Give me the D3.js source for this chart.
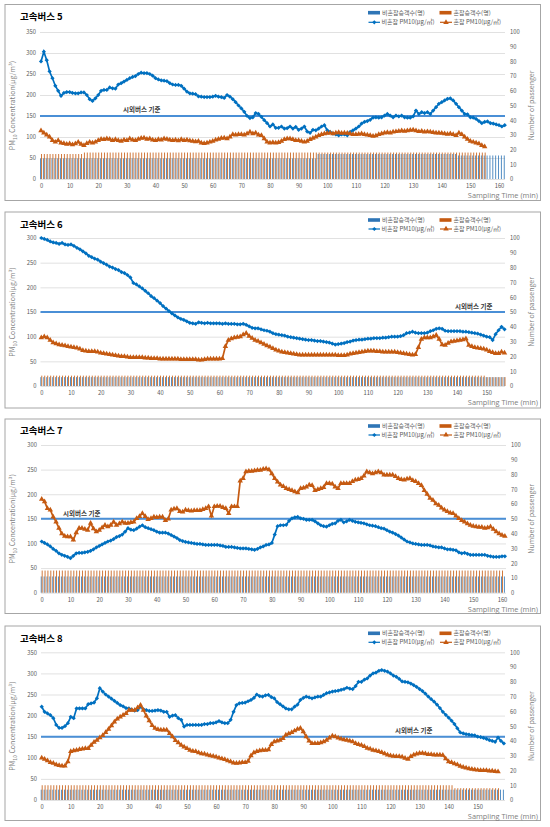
<!DOCTYPE html>
<html><head><meta charset="utf-8">
<script src="https://cdn.jsdelivr.net/npm/d3@7"></script>
<style>body{margin:0;background:#fff}</style>
</head><body>
<svg id="c" width="550" height="827"></svg>
<script>
// ---------- DATA ----------
const titles = ["고속버스 5","고속버스 6","고속버스 7","고속버스 8"];
const legendLabels = ["비혼잡승객수(명)","혼잡승객수(명)","비혼잡 PM10(μg/㎥)","혼잡 PM10(μg/㎥)"];
const refLabel = "시외버스 기준";
const refValue = 150;
const leftTicks350 = [0,50,100,150,200,250,300,350];
const leftTicks300 = [0,50,100,150,200,250,300];
const rightTicks = [0,10,20,30,40,50,60,70,80,90,100];
const xTicks160 = [0,10,20,30,40,50,60,70,80,90,100,110,120,130,140,150,160];
const xTicks150 = [0,10,20,30,40,50,60,70,80,90,100,110,120,130,140,150];

const p1Blue = [280,303,283,256,240,222,210,198,205,207,
207,205,204,204,206,206,200,190,186,192,
200,210,212,212,218,216,215,225,228,232,
236,240,243,245,250,253,252,252,250,246,
240,237,235,234,233,228,225,224,224,222,
215,208,204,203,202,197,196,195,195,195,
196,198,196,195,193,200,196,190,183,175,
168,160,150,145,147,157,155,148,140,133,
125,130,122,122,125,120,121,125,120,124,
117,120,125,113,110,117,116,120,125,128,
116,112,108,106,104,106,106,104,112,116,
120,125,132,136,138,141,146,147,146,147,
151,155,151,147,151,149,151,147,146,146,
149,163,155,159,157,159,155,163,171,179,
183,187,191,192,187,179,171,163,155,154,
147,146,143,138,133,136,137,133,132,130,
128,125,128];
const p1Orange = [115,110,105,100,92,88,92,86,85,83,
84,82,84,88,83,80,85,88,86,88,
92,95,94,96,95,92,94,92,90,93,
92,96,93,92,95,97,98,95,96,93,
92,94,93,96,95,93,92,93,91,94,
92,93,91,90,89,90,86,85,86,88,
90,93,95,97,98,96,100,106,105,106,
106,105,108,112,108,110,105,104,96,88,
86,87,86,87,90,94,96,96,94,92,
92,90,88,90,94,97,100,104,106,108,
109,110,108,110,111,109,110,109,108,106,
106,107,108,106,105,104,102,103,106,108,
110,111,110,112,113,114,115,114,115,116,
117,115,113,114,112,113,112,111,110,110,
109,108,107,108,106,104,110,106,100,95,
90,88,86,84,80,77];
const p1BarBlue = [14,14,14,14,14,14,14,14,14,14, 14,14,14,14,14,14,14,14,14,14,
14,14,14,14,14,14,14,14,14,14, 14,14,14,14,14,14,14,14,14,14,
14,14,14,14,14,14,14,14,14,14, 14,14,14,14,14,14,14,14,14,14,
14,14,14,14,14,14,14,14,14,14, 14,14,14,14,14,14,14,14,14,14,
14,14,14,14,14,14,14,14,14,14, 14,14,14,14,14,14,14,17,17,17,
17,17,17,17,17,17,17,17,17,17, 17,17,17,17,17,17,17,17,17,17,
17,17,17,17,17,17,17,17,17,17, 17,17,17,17,17,17,17,17,17,17,
17,17,17,17,17,17,16,16,16,16, 16,16,16,16,16,16,16,16,16,16,
16,16,16];
const p1BarOrange = [17,17,17,17,17,17,17,17,17,17, 17,17,17,17,17,18,18,18,18,18,
18,18,18,18,18,18,18,18,18,18, 18,18,18,18,18,18,18,18,18,18,
18,18,18,18,18,18,18,18,18,18, 18,18,18,18,18,18,18,18,18,18,
18,18,18,18,18,18,18,18,18,18, 18,18,18,18,18,18,18,18,18,18,
18,18,18,18,18,18,18,18,18,18, 18,18,18,18,18,18,18,18,18,18,
18,18,18,18,18,18,18,18,18,18, 18,18,18,18,18,18,18,18,18,18,
18,18,18,18,18,18,18,18,18,18, 18,18,18,18,18,18,18,18,18,18,
18,18,18,18,18,18,18,18,18,18, 18,18,18,18,18,18];

const p2Blue = [300,298,296,293,291,290,288,290,287,286,
287,284,280,277,273,269,264,261,258,256,
252,249,246,242,240,237,235,231,229,225,
220,209,206,202,198,193,188,182,178,173,
168,162,157,152,147,143,139,136,134,131,
128,127,126,129,128,127,128,127,127,127,
127,126,127,126,126,126,125,125,126,124,
121,118,117,117,115,113,112,110,107,105,
104,103,102,100,99,98,97,96,95,94,
93,93,92,91,91,90,89,88,86,84,
85,86,87,89,90,92,93,94,94,95,
96,96,97,97,97,98,98,99,100,100,
100,101,103,107,108,110,108,107,107,107,
108,111,113,116,117,116,112,111,111,111,
111,111,110,110,109,108,107,106,104,102,
100,99,93,105,113,120,115];
const p2Orange = [98,100,98,93,88,86,84,83,82,80,
79,78,77,75,72,71,70,70,70,69,
67,66,65,64,63,62,61,60,60,59,
58,58,58,58,58,57,57,56,56,56,
55,55,55,55,55,55,55,54,54,54,
54,54,54,53,53,54,55,55,55,55,
55,56,80,93,96,98,99,100,104,107,
101,97,93,91,88,85,82,79,76,73,
71,69,68,67,66,65,64,63,63,63,
63,63,63,63,63,63,63,63,63,63,
62,62,62,63,65,66,67,68,69,70,
71,71,71,70,70,69,69,69,69,69,
68,67,66,65,64,63,64,78,95,98,
98,98,100,103,95,84,83,87,90,91,
92,93,94,96,83,80,78,77,76,75,
73,70,68,66,66,69,67];
const p2BarBlue = [6,6,6,6,6,6,6,6,6,6, 6,6,6,6,6,6,6,6,6,6, 6,6,6,6,6,6,6,6,6,6, 6,6,6,6,6,6,6,6,6,6,
6,6,6,6,6,6,6,6,6,6, 6,6,6,6,6,6,6,6,6,6, 6,6,6,6,6,6,6,6,6,6, 6,6,6,6,6,6,6,6,6,6,
6,6,6,6,6,6,6,6,6,6, 6,6,6,6,6,6,6,6,6,6, 6,6,6,6,6,6,6,6,6,6, 6,6,6,6,6,6,6,6,6,6,
6,6,6,6,6,6,6,6,6,6, 6,6,6,6,6,6,6,6,6,6, 6,6,6,6,6,6,6,6,6,6, 6,6,6,6,6,6,6];
const p2BarOrange = [7,7,7,7,7,7,7,7,7,7, 7,7,7,7,7,7,7,7,7,7, 7,7,7,7,7,7,7,7,7,7, 7,7,7,7,7,7,7,7,7,7,
7,7,7,7,7,7,7,7,7,7, 7,7,7,7,7,7,7,7,7,7, 7,7,7,7,7,7,7,7,7,7, 7,7,7,7,7,7,7,7,7,7,
7,7,7,7,7,7,7,7,7,7, 7,7,7,7,7,7,7,7,7,7, 7,7,7,7,7,7,7,7,7,7, 7,7,7,7,7,7,7,7,7,7,
7,7,7,7,7,7,7,7,7,7, 7,7,7,7,7,7,7,7,7,7, 7,7,7,7,7,7,7,7,7,7, 6,6,6,6,6,6,6];

const p3Blue = [104,101,98,94,89,85,80,77,75,73,
70,75,80,81,81,82,83,85,88,92,
95,98,101,104,106,109,113,115,118,124,
131,128,127,130,134,137,133,131,129,127,
124,122,122,122,120,117,114,111,107,105,
103,102,101,100,99,99,98,97,97,97,
97,97,96,95,93,93,93,92,91,90,
90,90,89,88,87,89,92,94,97,98,
101,118,135,137,137,138,146,151,153,154,
151,150,148,148,148,145,141,137,135,134,
137,140,141,146,148,143,145,148,146,144,
143,142,141,139,137,136,135,133,131,130,
127,124,122,119,116,112,108,104,102,100,
99,98,97,97,97,96,94,93,92,92,
90,88,88,87,86,82,80,81,79,77,
77,77,77,77,77,75,74,73,73,73,
74,74];
const p3Orange = [190,185,171,168,154,144,131,120,115,114,
114,107,122,131,131,129,127,141,130,124,
127,132,137,134,137,144,137,140,144,141,
141,143,144,151,155,161,155,149,151,154,
153,154,154,147,150,168,170,171,165,164,
168,167,166,167,167,167,169,171,175,156,
175,176,176,173,171,161,175,175,175,227,
232,246,247,247,248,249,249,251,252,250,
242,232,225,219,216,212,210,208,205,203,
212,213,215,219,218,208,210,212,214,222,
222,221,215,212,222,222,222,222,226,229,
230,232,237,246,244,242,244,246,244,239,
239,239,239,236,232,230,229,231,232,228,
226,222,218,208,200,192,188,181,178,172,
168,165,162,161,156,151,147,144,140,137,
135,134,133,133,131,132,134,129,124,120,
117,115];
const p3BarBlue = [11,11,11,11,11,11,11,11,11,11, 11,11,11,11,11,11,11,11,11,11, 11,11,11,11,11,11,11,11,11,11,
11,11,11,11,11,11,11,11,11,11, 11,11,11,11,11,11,11,11,11,11, 11,11,11,11,11,11,11,11,11,11,
11,11,11,11,11,11,11,11,11,11, 11,11,11,11,11,11,11,11,11,11, 11,11,11,11,11,11,11,11,11,11,
11,11,11,11,11,11,11,11,11,11, 11,11,11,11,11,11,11,11,11,11, 11,11,11,11,11,11,11,11,11,11,
11,11,11,11,11,11,11,11,11,11, 11,11,11,11,11,11,11,11,11,11, 11,11,11,11,11,11,11,11,11,11,
11,11,11,11,11,11,11,11,11,11, 11,11];
const p3BarOrange = [15,15,15,15,15,15,15,15,15,15, 15,15,15,15,15,15,15,15,15,15, 15,15,15,15,15,15,15,15,15,15,
15,15,15,15,15,15,15,15,15,15, 15,15,15,15,15,15,15,15,15,15, 15,15,15,15,15,15,15,15,15,15,
15,15,15,15,15,15,15,15,15,15, 15,15,15,15,15,15,15,15,15,15, 15,15,15,15,15,15,15,15,15,15,
15,15,15,15,15,15,15,15,15,15, 15,15,15,15,15,15,15,15,15,15, 15,15,15,15,15,15,15,15,15,15,
15,15,15,15,15,15,15,15,15,15, 15,15,15,15,15,15,15,15,15,15, 15,15,15,15,15,15,15,15,15,15,
15,15,15,15,15,15,15,15,15,15, 15];

const p4Blue = [221,209,205,201,194,178,171,171,175,182,
197,194,217,217,217,217,227,229,231,241,
265,257,250,245,240,235,230,225,222,218,
217,214,212,213,221,215,213,211,211,212,
213,212,209,209,197,200,201,194,190,174,
178,178,178,178,178,178,180,180,182,182,
184,187,184,182,182,190,209,225,229,230,
231,234,237,242,250,246,245,248,249,244,
241,232,227,222,217,215,215,221,226,237,
242,245,243,241,243,245,245,249,253,255,
257,258,259,261,263,266,264,263,270,280,
280,285,288,295,300,302,306,308,306,304,
300,295,292,287,281,280,279,276,272,268,
263,258,252,245,239,233,226,218,209,202,
195,188,180,170,160,158,156,155,154,153,
150,149,147,145,142,140,138,148,140,134];
const p4Orange = [100,97,93,89,87,84,82,81,81,91,
115,117,118,120,121,122,122,130,137,142,
148,153,160,168,176,185,192,197,201,205,
213,213,213,219,225,213,199,188,177,170,
167,166,166,166,158,150,141,136,130,126,
122,118,116,115,112,110,109,107,105,104,
102,100,98,96,93,91,88,87,88,89,
89,92,105,112,115,117,118,118,119,132,
138,140,142,146,154,157,160,164,168,170,
162,150,140,134,134,134,136,138,142,147,
152,150,147,145,143,142,140,138,134,132,
130,127,123,121,118,117,115,113,110,107,
105,104,103,103,102,99,97,103,107,109,
111,111,110,108,108,107,107,107,106,98,
91,89,86,84,80,78,76,74,73,72,
71,70,70,70,69,69,68,67];
const p4BarBlue = [7,7,7,7,7,7,7,7,7,7, 7,7,7,7,7,7,7,7,7,7, 7,7,7,7,7,7,7,7,7,7, 7,7,7,7,7,7,7,7,7,7,
7,7,7,7,7,7,7,7,7,7, 7,7,7,7,7,7,7,7,7,7, 7,7,7,7,7,7,7,7,7,7, 7,7,7,7,7,7,7,7,7,7,
7,7,7,7,7,7,7,7,7,7, 7,7,7,7,7,7,7,7,7,7, 7,7,7,7,7,7,7,7,7,7, 7,7,7,7,7,7,7,7,7,7,
7,7,7,7,7,7,7,7,7,7, 7,7,7,7,7,7,7,7,7,7, 7,7,7,7,7,7,7,7,7,7, 7,7,7,7,7,7,7,7,7,7];
const p4BarOrange = [10,10,10,10,10,10,10,10,10,10, 10,10,10,10,10,10,10,10,10,10, 10,10,10,10,10,10,10,10,10,10,
10,10,10,10,10,10,10,10,10,10, 10,10,10,10,10,10,10,10,10,10, 10,10,10,10,10,10,10,10,10,10,
10,10,10,10,10,10,10,10,10,10, 10,10,10,10,10,10,10,10,10,10, 10,10,10,10,10,10,10,10,10,10,
10,10,10,10,10,10,10,10,10,10, 10,10,10,10,10,10,10,10,10,10, 10,10,10,10,10,10,10,10,10,10,
10,10,10,10,10,10,10,10,10,10, 10,10,10,10,10,10,10,10,10,10, 10,10,8,8,8,8,8,8,8,8,
8,8,8,8,8,8,8,8];

// ---------- LAYOUT ----------
const panels = [
  {title:titles[0], blue:p1Blue, orange:p1Orange, barB:p1BarBlue, barO:p1BarOrange,
   box:[5,4.5,535.5,196], l:40,r:505,t:32,b:179, x0:41, xT:499, xMax:160, xTicks:xTicks160,
   yMax:350, yTicks:leftTicks350, titleY:20, legY:[12.7,22.3], ref:[123,111.5], sampY:198.3},
  {title:titles[1], blue:p2Blue, orange:p2Orange, barB:p2BarBlue, barO:p2BarOrange,
   box:[5,212,535.5,196], l:40.5,r:505,t:238,b:386, x0:41.3, xT:486.7, xMax:150, xTicks:xTicks150,
   yMax:300, yTicks:leftTicks300, titleY:227.5, legY:[220,229], ref:[455,308.5], sampY:405.3},
  {title:titles[2], blue:p3Blue, orange:p3Orange, barB:p3BarBlue, barO:p3BarOrange,
   box:[5,419,535.5,194.5], l:41,r:506,t:445,b:592.7, x0:41.7, xT:502, xMax:160, xTicks:xTicks160,
   yMax:300, yTicks:leftTicks300, titleY:434, legY:[426,435], ref:[63,515.5], sampY:612},
  {title:titles[3], blue:p4Blue, orange:p4Orange, barB:p4BarBlue, barO:p4BarOrange,
   box:[5,626,535.5,194.5], l:41,r:505,t:652.3,b:800, x0:41.7, xT:477.7, xMax:150, xTicks:xTicks150,
   yMax:350, yTicks:leftTicks350, titleY:641.5, legY:[633.3,642.3], ref:[395,732.5], sampY:819}
];

const C = {blue:"#0070c0", orange:"#c55a11", barBlue:"#2e75b6", barOrange:"#c55a11",
           ref:"#4a8fd6", grid:"#d9d9d9", text:"#595959", border:"#a6a6a6"};
const FONT = "'Noto Sans CJK KR','Noto Sans',sans-serif";

const svg = d3.select("#c");
const diamond = d3.symbol().type(d3.symbolSquare).size(9);
const tri = d3.symbol().type(d3.symbolTriangle).size(13);

panels.forEach(p => {
  const g = svg.append("g");
  g.append("rect").attr("x",p.box[0]).attr("y",p.box[1]).attr("width",p.box[2]).attr("height",p.box[3])
    .attr("fill","#fff").attr("stroke",C.border).attr("stroke-width",1);

  const x = d3.scaleLinear().domain([0,p.xMax]).range([p.x0,p.xT]);
  const yL = d3.scaleLinear().domain([0,p.yMax]).range([p.b,p.t]);
  const yR = d3.scaleLinear().domain([0,100]).range([p.b,p.t]);

  // gridlines
  const grid = g.append("g").attr("transform",`translate(${p.l},0)`)
    .call(d3.axisLeft(yL).tickValues(p.yTicks).tickSize(-(p.r-p.l)).tickFormat(""));
  grid.select(".domain").remove();
  grid.selectAll("line").attr("stroke",C.grid).attr("stroke-width",0.8);

  // left axis labels
  const ax = g.append("g").attr("transform",`translate(${p.l},0)`)
    .call(d3.axisLeft(yL).tickValues(p.yTicks).tickSize(0).tickPadding(4));
  ax.select(".domain").remove();
  ax.selectAll("text").attr("font-family",FONT).attr("font-size",5.8).attr("fill",C.text);
  // right axis labels
  const ar = g.append("g").attr("transform",`translate(${p.r},0)`)
    .call(d3.axisRight(yR).tickValues(rightTicks).tickSize(0).tickPadding(5));
  ar.select(".domain").remove();
  ar.selectAll("text").attr("font-family",FONT).attr("font-size",5.8).attr("fill",C.text);
  // bottom axis labels
  const ab = g.append("g").attr("transform",`translate(0,${p.b})`)
    .call(d3.axisBottom(x).tickValues(p.xTicks).tickSize(0).tickPadding(5));
  ab.select(".domain").remove();
  ab.selectAll("text").attr("font-family",FONT).attr("font-size",5.8).attr("fill",C.text);

  // bars
  const bw = 0.95;
  g.append("g").selectAll("rect").data(p.barB).join("rect")
    .attr("x",(d,i)=>x(i)-bw).attr("width",bw)
    .attr("y",d=>yR(d)).attr("height",d=>yR(0)-yR(d)).attr("fill",C.barBlue).attr("opacity",0.85);
  g.append("g").selectAll("rect").data(p.barO).join("rect")
    .attr("x",(d,i)=>x(i)).attr("width",bw)
    .attr("y",d=>yR(d)).attr("height",d=>yR(0)-yR(d)).attr("fill",C.barOrange).attr("opacity",0.85);

  // reference line
  g.append("line").attr("x1",p.l).attr("x2",p.r).attr("y1",yL(refValue)).attr("y2",yL(refValue))
    .attr("stroke",C.ref).attr("stroke-width",2);
  g.append("text").attr("x",p.ref[0]).attr("y",p.ref[1]).text(refLabel)
    .attr("font-family",FONT).attr("font-size",6.5).attr("font-weight","bold").attr("fill","#3a3a3a");

  // lines
  const line = d3.line().x((d,i)=>x(i)).y(d=>yL(d));
  g.append("path").datum(p.blue).attr("d",line).attr("fill","none").attr("stroke",C.blue).attr("stroke-width",1.7);
  g.append("g").selectAll("path").data(p.blue).join("path")
    .attr("d",diamond).attr("transform",(d,i)=>`translate(${x(i)},${yL(d)}) rotate(45)`).attr("fill",C.blue);
  g.append("path").datum(p.orange).attr("d",line).attr("fill","none").attr("stroke",C.orange).attr("stroke-width",1.7);
  g.append("g").selectAll("path").data(p.orange).join("path")
    .attr("d",tri).attr("transform",(d,i)=>`translate(${x(i)},${yL(d)})`).attr("fill",C.orange);

  // title
  g.append("text").attr("x",20).attr("y",p.titleY).text(p.title)
    .attr("font-family",FONT).attr("font-size",9.5).attr("font-weight","bold").attr("fill","#000");

  // legend
  const lg = g.append("g").attr("font-family",FONT).attr("font-size",6).attr("fill",C.text);
  lg.append("rect").attr("x",368).attr("y",p.legY[0]-1.8).attr("width",12).attr("height",3.6).attr("fill",C.barBlue);
  lg.append("text").attr("x",382).attr("y",p.legY[0]+2).text(legendLabels[0]);
  lg.append("rect").attr("x",439.5).attr("y",p.legY[0]-1.8).attr("width",12).attr("height",3.6).attr("fill",C.barOrange);
  lg.append("text").attr("x",453.5).attr("y",p.legY[0]+2).text(legendLabels[1]);
  lg.append("line").attr("x1",368.5).attr("x2",380).attr("y1",p.legY[1]).attr("y2",p.legY[1]).attr("stroke",C.blue).attr("stroke-width",1.2);
  lg.append("path").attr("d",diamond).attr("transform",`translate(374.3,${p.legY[1]}) rotate(45)`).attr("fill",C.blue);
  lg.append("text").attr("x",381.5).attr("y",p.legY[1]+2).text(legendLabels[2]);
  lg.append("line").attr("x1",440).attr("x2",452).attr("y1",p.legY[1]).attr("y2",p.legY[1]).attr("stroke",C.orange).attr("stroke-width",1.2);
  lg.append("path").attr("d",tri).attr("transform",`translate(446,${p.legY[1]})`).attr("fill",C.orange);
  lg.append("text").attr("x",453.5).attr("y",p.legY[1]+2).text(legendLabels[3]);

  // axis titles
  const cy = (p.t+p.b)/2;
  const yl = g.append("text").attr("transform",`translate(15,${cy}) rotate(-90)`).attr("text-anchor","middle")
    .attr("font-family",FONT).attr("font-size",7).attr("fill","#7f7f7f");
  yl.append("tspan").text("PM");
  yl.append("tspan").attr("font-size",5).attr("dy",1.5).text("10");
  yl.append("tspan").attr("dy",-1.5).text(" Concentration(μg/m³)");
  g.append("text").attr("transform",`translate(534,${cy}) rotate(-90)`).attr("text-anchor","middle")
    .attr("font-family",FONT).attr("font-size",7).attr("fill","#7f7f7f").text("Number of passenger");
  g.append("text").attr("x",538).attr("y",p.sampY).attr("text-anchor","end")
    .attr("font-family","'Open Sans','Liberation Sans',sans-serif").attr("font-size",7.4).attr("fill","#808080").text("Sampling Time (min)");
});
</script>
</body></html>
